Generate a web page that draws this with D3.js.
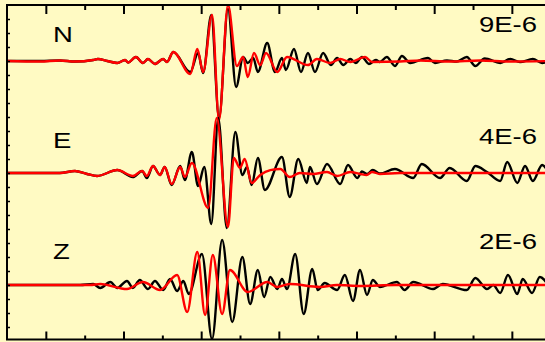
<!DOCTYPE html>
<html>
<head>
<meta charset="utf-8">
<script src="https://cdn.jsdelivr.net/npm/d3@7"></script>
<style>
  html, body { margin: 0; padding: 0; background: #fffac3; }
  svg { display: block; }
</style>
</head>
<body>
<div id="chart"></div>
<script>
// component names and their amplitude scale labels
const components = ["N", "E", "Z"];
const scaleLabels = ["9E-6", "4E-6", "2E-6"];
const offsets = [20, 12, 4];

// [time (s), normalised amplitude] picked at peaks and troughs
const nObserved = [[5,0],[9.25,0],[11.8,0.04],[13.75,-0.04],[16.1,0.07],[16.7,0.14],[17.9,0],[19.2,-0.14],[20.2,0.07],[20.6,-0.11],[21.6,0.29],[22.5,-0.14],[23.15,0.14],[24.05,-0.21],[25.1,0.14],[25.6,-0.07],[26.4,0.64],[28.6,-0.79],[29.6,0.57],[30.25,-0.86],[31.3,3.29],[32.3,-4.07],[33.45,3.71],[34.5,-1.86],[35.4,0.29],[36.0,-0.14],[36.7,0.21],[37.3,-0.79],[38.5,1.29],[39.5,-0.79],[40.4,0.21],[40.9,-0.64],[41.95,0.86],[42.85,-0.79],[43.75,0.57],[44.65,-0.79],[45.7,0.57],[46.7,-0.29],[47.5,0.21],[48.3,-0.29],[49.2,0.14],[49.9,-0.14],[50.7,0.29],[51.6,-0.21],[52.5,0.07],[53.0,-0.07],[53.9,0.29],[54.95,-0.36],[55.85,0.36],[56.9,-0.14],[59.2,0.21],[60.1,-0.14],[61.65,0.04],[62.9,-0.04],[64.2,0.29],[65.3,-0.36],[66.5,0.18],[68.5,-0.14],[69.8,0.14],[71.05,-0.07],[72.7,0.14],[73.9,-0.14],[74.9,0]];
const nSynthetic = [[5,0],[9.25,-0.04],[11.8,0.04],[13.75,-0.04],[16.1,0.07],[16.7,0.14],[17.9,0],[19.2,-0.14],[20.2,0.07],[20.6,-0.11],[21.6,0.29],[22.5,-0.14],[23.15,0.14],[24.05,-0.21],[25.1,0.14],[25.6,-0.07],[26.4,0.64],[28.6,-0.93],[29.5,0.86],[30.25,-0.79],[31.4,3.29],[32.3,-4.21],[33.45,4.0],[34.6,-0.36],[35.4,0.29],[36.0,-1.14],[36.8,0.57],[37.6,-0.29],[38.35,0.57],[39.8,-0.79],[41.05,0.29],[43.75,-0.29],[44.9,0.14],[46.6,-0.14],[47.9,0.14],[49.2,-0.07],[51.1,0.29],[52.0,-0.07],[55.6,-0.04],[58.2,0.04],[62.0,-0.04],[65.9,0.04],[69.8,-0.04],[74.9,0]];

const eObserved = [[5,0],[11.8,0],[13.75,0.14],[15.3,-0.07],[16.6,-0.21],[19.2,0.21],[21.2,-0.29],[22.4,0.14],[23.0,-0.36],[23.8,0.5],[24.7,-0.14],[25.3,0.43],[26.2,-0.86],[27.3,0.5],[27.9,-0.5],[28.8,1.5],[29.6,-0.93],[30.4,0.43],[31.3,-3.64],[32.2,3.93],[33.3,-3.93],[34.4,2.93],[35.3,-0.14],[35.9,0.43],[36.5,-0.86],[37.3,1.07],[38.2,-1.21],[40.4,1.14],[41.4,-1.71],[42.5,1.0],[43.6,-0.71],[44.0,0.43],[44.9,-0.79],[46.2,0.64],[47.9,-0.79],[48.9,0.57],[50.1,-0.36],[50.7,0.11],[51.35,-0.07],[52.1,0.21],[53.0,-0.04],[54.95,0.29],[57.3,-0.36],[58.4,0.64],[60.75,-0.36],[62.0,0.36],[64.2,-0.57],[65.3,0.5],[66.8,0.07],[68.5,-0.57],[69.4,0.79],[70.7,-0.71],[71.7,0.5],[72.7,-0.57],[73.9,0.57],[74.9,-0.14]];
const eSynthetic = [[5,0],[11.8,0],[13.75,0.14],[15.3,-0.07],[16.6,-0.21],[19.2,0.21],[21.2,-0.21],[22.4,0.14],[23.0,-0.21],[23.8,0.5],[24.7,-0.14],[25.3,0.43],[26.2,-0.79],[27.3,0.43],[27.9,-0.29],[28.8,0.71],[30.9,-2.5],[32.0,3.93],[33.45,-3.86],[34.2,1.07],[35.0,0.36],[35.6,1.0],[36.5,-0.71],[37.6,-0.14],[38.9,0.21],[40.2,0.29],[41.4,-0.29],[42.7,0.0],[44.4,-0.07],[46.2,0.07],[47.5,-0.21],[49.2,0.07],[50.5,-0.07],[51.3,-0.14],[52.0,0.07],[53.0,-0.07],[55.6,0],[74.9,0]];

const zObserved = [[5,0],[14.4,0],[16.1,0.07],[17.0,-0.21],[18.3,0.21],[19.2,-0.21],[20.45,0.29],[21.2,-0.21],[22.1,0.36],[23.15,-0.29],[24.05,0.29],[25.1,-0.36],[26.0,0.43],[26.9,-0.43],[27.7,0.29],[28.4,-0.64],[30.1,2.21],[31.4,-3.86],[32.7,3.21],[34.0,-2.64],[35.3,2.0],[36.3,-1.36],[37.3,1.07],[38.1,-0.86],[38.9,0.57],[39.8,-0.29],[40.4,0.43],[41.05,-0.29],[42.1,2.21],[43.2,-2.07],[44.3,1.14],[45.0,-0.36],[45.9,0.14],[47.5,-0.36],[48.5,0.71],[49.55,-1.14],[50.45,1.07],[51.35,-0.71],[52.1,0.36],[53.0,-0.14],[55.2,0.21],[56.2,-0.36],[57.3,0.21],[59.85,-0.29],[61.1,0.07],[64.2,-0.36],[65.3,0.5],[66.8,-0.29],[67.6,0.0],[68.5,-0.57],[69.5,0.71],[70.7,-0.64],[71.4,0.43],[72.6,-0.57],[73.6,0.57],[74.9,-0.21]];
const zSynthetic = [[5,0],[15.7,0],[17.0,0.07],[20.45,-0.29],[22.5,0.21],[24.7,-0.36],[26.9,0.71],[28.2,-1.93],[29.5,2.36],[30.5,-2.14],[31.5,2.14],[32.7,-2.07],[33.7,1.07],[36.0,-0.5],[38.5,0.21],[39.8,-0.14],[41.4,0.07],[45.3,-0.14],[47.5,0.0],[50.5,-0.07],[55,0],[74.9,0]];

const observed = [nObserved, eObserved, zObserved];
const synthetic = [nSynthetic, eSynthetic, zSynthetic];

const xTicks = d3.range(10, 75, 5);
const yTicks = d3.range(1, 24);

const width = 545, height = 342;
const frame = { left: 7, top: 5, bottom: 339.5, right: 560 };

const svg = d3.select("#chart").append("svg")
    .attr("width", width)
    .attr("height", height);

svg.append("rect")
    .attr("width", width)
    .attr("height", height)
    .attr("fill", "#fffac3");

const x = d3.scaleLinear()
    .domain([5, 75])
    .range([frame.left, frame.left + 70 * 7.767]);

const y = d3.scaleLinear()
    .domain([0, 24])
    .range([341, 5]);

svg.append("clipPath")
    .attr("id", "plotclip")
  .append("rect")
    .attr("x", frame.left)
    .attr("y", frame.top)
    .attr("width", frame.right - frame.left)
    .attr("height", frame.bottom - frame.top);

const plot = svg.append("g").attr("clip-path", "url(#plotclip)");

components.forEach((c, i) => {
    const line = d3.line()
        .x(d => x(d[0]))
        .y(d => y(offsets[i] + d[1]))
        .curve(d3.curveMonotoneX);

    plot.append("path")
        .datum(observed[i])
        .attr("fill", "none")
        .attr("stroke", "#000")
        .attr("stroke-width", 2.4)
        .attr("stroke-linejoin", "round")
        .attr("d", line);

    plot.append("path")
        .datum(synthetic[i])
        .attr("fill", "none")
        .attr("stroke", "#ff0000")
        .attr("stroke-width", 2.4)
        .attr("stroke-linejoin", "round")
        .attr("d", line);
});

// axes: ticks point inwards, no labels
svg.append("g")
    .attr("transform", `translate(0,${frame.top})`)
    .call(d3.axisTop(x).tickValues(xTicks).tickSize(-8).tickFormat(""))
    .call(g => g.select(".domain").remove())
    .call(g => g.selectAll(".tick line")
        .attr("y2", d => d % 10 === 0 ? 9 : 5)
        .attr("stroke-width", 2));

svg.append("g")
    .attr("transform", `translate(0,${frame.bottom})`)
    .call(d3.axisBottom(x).tickValues(xTicks).tickSize(-8).tickFormat(""))
    .call(g => g.select(".domain").remove())
    .call(g => g.selectAll(".tick line")
        .attr("y2", d => d % 10 === 0 ? -8 : -4)
        .attr("stroke-width", 2));

svg.append("g")
    .attr("transform", `translate(${frame.left},0)`)
    .call(d3.axisLeft(y).tickValues(yTicks).tickSize(-3).tickFormat(""))
    .call(g => g.select(".domain").remove())
    .call(g => g.selectAll(".tick line").attr("stroke-width", 1.5));

// frame
svg.append("path")
    .attr("d", `M${frame.right},${frame.top}H${frame.left}V${frame.bottom}H${frame.right}`)
    .attr("fill", "none")
    .attr("stroke", "#000")
    .attr("stroke-width", 2);

// labels
const labelY = [42, 148, 259];
const scaleY = [32, 144, 249];

components.forEach((c, i) => {
    svg.append("text")
        .attr("transform", `translate(53,${labelY[i]}) scale(1.25,1)`)
        .attr("font-family", "'Liberation Sans', Arial, sans-serif")
        .attr("font-size", 22)
        .attr("fill", "#000")
        .text(c);

    svg.append("text")
        .attr("transform", `translate(537,${scaleY[i]}) scale(1.25,1)`)
        .attr("text-anchor", "end")
        .attr("font-family", "'Liberation Sans', Arial, sans-serif")
        .attr("font-size", 22)
        .attr("fill", "#000")
        .text(scaleLabels[i]);
});
</script>
</body>
</html>
